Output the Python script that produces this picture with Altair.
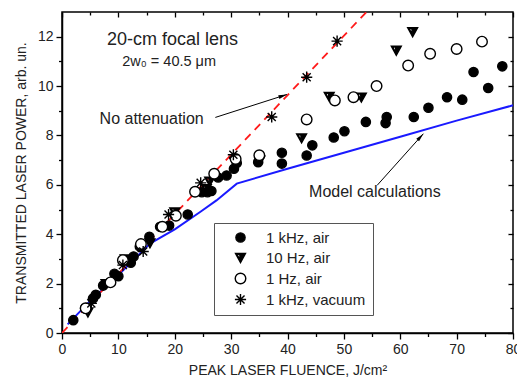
import math
import altair as alt
import pandas as pd

# ---------------- data ----------------
SERIES = ["1 kHz, air", "10 Hz, air", "1 Hz, air", "1 kHz, vacuum"]

khz_air_x = [2.0, 4.1, 5.5, 6.0, 7.3, 9.3, 10.0, 12.2, 12.7, 13.8, 15.5, 17.4, 19.0, 22.3,
             24.8, 25.8, 26.5, 27.7, 29.2, 30.5, 31.0, 34.8, 39.0, 39.0, 43.4, 44.4,
             48.2, 50.1, 53.9, 57.4, 57.6, 62.4, 65.0, 68.3, 71.0, 73.0, 75.6, 78.1]
khz_air_y = [0.52, 1.0, 1.4, 1.55, 1.92, 2.4, 2.3, 2.85, 3.1, 3.5, 3.9, 4.3, 4.35, 4.8,
             5.7, 5.7, 5.75, 6.3, 6.38, 6.65, 6.88, 6.92, 7.3, 6.86, 7.19, 7.6,
             7.92, 8.17, 8.55, 8.5, 8.75, 8.75, 9.12, 9.55, 9.45, 10.57, 9.92, 10.8]

hz10_air_x = [4.6, 7.8, 11.2, 15.6, 20.0, 25.6, 26.2, 30.6, 35.1, 42.5, 47.4, 53.1, 59.3, 62.2]
hz10_air_y = [0.85, 2.0, 3.0, 3.65, 4.9, 5.85, 6.15, 6.95, 7.0, 7.9, 9.58, 9.55, 11.45, 12.2]

hz1_air_x = [4.2, 8.6, 10.8, 14.0, 17.8, 20.2, 23.6, 27.0, 30.8, 35.0, 43.4, 48.4, 51.7,
             55.8, 61.4, 65.3, 70.0, 74.5]
hz1_air_y = [1.0, 2.05, 2.95, 3.6, 4.3, 4.75, 5.72, 6.45, 7.05, 7.2, 8.65, 9.42, 9.55,
             10.0, 10.83, 11.31, 11.5, 11.8]

khz_vac_x = [5.2, 10.8, 14.4, 18.9, 24.6, 30.4, 37.2, 43.4, 48.8]
khz_vac_y = [1.2, 2.75, 3.3, 4.8, 6.08, 7.22, 8.75, 10.36, 11.82]

model_x = [1.0, 5.0, 10.0, 15.6, 20.0, 24.5, 27.4, 31.0, 40.0, 50.0, 60.0, 70.0, 80.0]
model_y = [0.35, 1.3, 2.35, 3.62, 4.2, 4.9, 5.37, 6.05, 6.65, 7.3, 7.95, 8.6, 9.22]

noatt_x = [0.0, 54.0]
noatt_y = [0.0, 13.0]

x_major = [0, 10, 20, 30, 40, 50, 60, 70, 80]
x_minor = [5, 15, 25, 35, 45, 55, 65, 75]
y_major = [0, 2, 4, 6, 8, 10, 12]
y_minor = [1, 3, 5, 7, 9, 11]

# ---------------- tables ----------------
rows = []
for name, xs, ys in [(SERIES[0], khz_air_x, khz_air_y), (SERIES[1], hz10_air_x, hz10_air_y),
                     (SERIES[2], hz1_air_x, hz1_air_y), (SERIES[3], khz_vac_x, khz_vac_y)]:
    rows += [{"fluence": a, "power": b, "series": name} for a, b in zip(xs, ys)]
points_df = pd.DataFrame(rows)
model_df = pd.DataFrame({"fluence": model_x, "power": model_y})
noatt_df = pd.DataFrame({"fluence": noatt_x, "power": noatt_y})

W, H = 451, 321
XD, YD = [0, 80], [0, 13]
PX_X = W / (XD[1] - XD[0])
PX_Y = H / (YD[1] - YD[0])

labels_df = pd.DataFrame({
    "fluence": [19.6, 19.0, 15.9, 55.5],
    "power": [11.85, 10.98, 8.68, 5.72],
    "text": ["20-cm focal lens", "2w\u2080 = 40.5 \u03bcm", "No attenuation", "Model calculations"],
    "fs": [18, 14.5, 16, 16],
})

arrows_df = pd.DataFrame({
    "x1": [27.2, 55.9], "y1": [8.73, 5.98],
    "x2": [39.9, 64.1], "y2": [9.66, 8.07],
})
arrows_df["angle"] = [
    math.degrees(math.atan2((r.x2 - r.x1) * PX_X, (r.y2 - r.y1) * PX_Y)) % 360
    for r in arrows_df.itertuples()
]

FONT = "Liberation Sans"
TXT = "#222222"
XS = alt.Scale(domain=XD, nice=False, zero=False)
YS = alt.Scale(domain=YD, nice=False, zero=False)

# ---------------- axes ----------------
def ax(orient, values, size, **kw):
    base = dict(orient=orient, values=values, tickSize=size, tickColor="black",
                tickWidth=1.3, grid=False)
    base.update(kw)
    return alt.Axis(**base)

x_main = ax("bottom", x_major, 6, domainColor="black", domainWidth=1.5,
            labelFontSize=14, labelFont=FONT, labelColor=TXT, labelPadding=3,
            title="PEAK LASER FLUENCE, J/cm\u00b2", titleFont=FONT, titleFontSize=14,
            titleFontWeight="normal", titleColor=TXT, titlePadding=7, labelFlush=False)
y_main = ax("left", y_major, 6, domainColor="black", domainWidth=1.5,
            labelFontSize=14, labelFont=FONT, labelColor=TXT, labelPadding=3,
            title="TRANSMITTED LASER POWER, arb. un.", titleFont=FONT, titleFontSize=14,
            titleFontWeight="normal", titleColor=TXT, titlePadding=9)
x_minor_ax = ax("bottom", x_minor, 3.5, labels=False, domain=False, title=None)
y_minor_ax = ax("left", y_minor, 3.5, labels=False, domain=False, title=None)
x_top = ax("top", x_major, 5, offset=-5, labels=False, domain=False, title=None)
y_right = ax("right", y_major, 5, offset=-5, labels=False, domain=False, title=None)
x_top_minor = ax("top", x_minor, 3, offset=-3, labels=False, domain=False, title=None)
y_right_minor = ax("right", y_minor, 3, offset=-3, labels=False, domain=False, title=None)

# ---------------- marks ----------------
TRI = "M-1,-0.8L1,-0.8L0,1ZM-0.72,-0.64L-0.08,0.56L-0.14,-0.64Z"
STAR = ("M-1,0L1,0M0,-1L0,1M-0.72,-0.72L0.72,0.72M-0.72,0.72L0.72,-0.72"
        "M-0.22,-0.22L0.22,-0.22L0.22,0.22L-0.22,0.22Z")
ARROW = "M0,0L0.33,1.5L-0.33,1.5Z"

legend = alt.Legend(title=None, orient="none", legendX=152, legendY=211, padding=7,
                    strokeColor="#555555", fillColor="white", labelFont=FONT,
                    labelFontSize=15, labelColor=TXT, rowPadding=4,
                    symbolStrokeWidth=1.4, symbolOffset=12, labelOffset=18)

model = alt.Chart(model_df).mark_line(color="#1a1aff", strokeWidth=2).encode(
    x=alt.X("fluence:Q", scale=XS, axis=x_main),
    y=alt.Y("power:Q", scale=YS, axis=y_main),
)

noatt = alt.Chart(noatt_df).mark_line(color="#ff1a1a", strokeWidth=1.8,
                                      strokeDash=[8, 6], clip=True).encode(
    x=alt.X("fluence:Q", scale=XS, axis=x_minor_ax),
    y=alt.Y("power:Q", scale=YS, axis=y_minor_ax),
)

pts = alt.Chart(points_df).mark_point(opacity=1, strokeWidth=1.4).encode(
    x=alt.X("fluence:Q", scale=XS, axis=x_top),
    y=alt.Y("power:Q", scale=YS, axis=y_right),
    shape=alt.Shape("series:N", scale=alt.Scale(domain=SERIES, range=["circle", TRI, "circle", STAR]), legend=legend),
    fill=alt.Fill("series:N", scale=alt.Scale(domain=SERIES, range=["black", "black", "white", "black"]), legend=legend),
    stroke=alt.Stroke("series:N", scale=alt.Scale(domain=SERIES, range=["black", "black", "black", "black"]), legend=legend),
    size=alt.Size("series:N", scale=alt.Scale(domain=SERIES, range=[85, 125, 55, 100]), legend=legend),
)

texts = alt.Chart(labels_df).mark_text(font=FONT, color=TXT, align="center",
                                        baseline="middle").encode(
    x=alt.X("fluence:Q", scale=XS, axis=x_top_minor),
    y=alt.Y("power:Q", scale=YS, axis=y_right_minor),
    text="text:N",
    size=alt.Size("fs:Q", scale=None),
)

arrow_lines = alt.Chart(arrows_df).mark_rule(color="black", strokeWidth=1).encode(
    x=alt.X("x1:Q", scale=XS, axis=None),
    y=alt.Y("y1:Q", scale=YS, axis=None),
    x2="x2:Q", y2="y2:Q",
)
arrow_heads = alt.Chart(arrows_df).mark_point(shape=ARROW, filled=True, color="black",
                                              size=130, opacity=1).encode(
    x=alt.X("x2:Q", scale=XS, axis=None),
    y=alt.Y("y2:Q", scale=YS, axis=None),
    angle=alt.Angle("angle:Q", scale=None),
)

chart = alt.layer(model, noatt, pts, texts, arrow_lines, arrow_heads).resolve_axis(
    x="independent", y="independent"
).properties(
    width=W, height=H,
    autosize=alt.AutoSizeParams(type="none"),
    padding={"left": 62, "top": 12, "right": 4, "bottom": 50},
    background="white",
).configure_view(stroke="black", strokeWidth=1.5)

chart.save("out.html", embed_options={"renderer": "svg", "actions": False})
